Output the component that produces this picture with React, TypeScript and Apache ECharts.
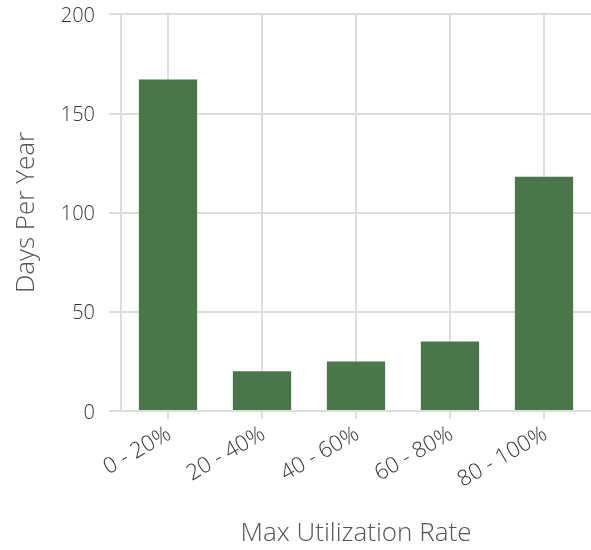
import React, { useEffect, useRef } from "react";
import * as echarts from "echarts";

const categories = ["0 - 20%", "20 - 40%", "40 - 60%", "60 - 80%", "80 - 100%"];
const daysPerYear = [167, 20, 25, 35, 118];
const yTicks = { min: 0, max: 200, interval: 50 };

export default function App() {
  const ref = useRef<HTMLDivElement>(null);
  useEffect(() => {
    const chart = echarts.init(ref.current!, null, { renderer: "svg" });
    const font = "Open Sans";
    // half-category grid positions: edges and centres
    const halfSteps = Array.from({ length: categories.length * 2 + 1 }, (_, i) => String(i));
    chart.setOption({
      animation: false,
      textStyle: { fontFamily: font, fontWeight: 300 },
      grid: { left: 121, right: 0, top: 14, bottom: 139, containLabel: false },
      xAxis: [
        {
          type: "category",
          data: categories,
          axisLine: { show: true, lineStyle: { color: "#dddddd", width: 2 } },
          axisTick: { show: true, alignWithLabel: true, length: 8, lineStyle: { color: "#dddddd", width: 2 } },
          axisLabel: { rotate: 30, fontSize: 22, color: "#333", fontFamily: font, fontWeight: 300, margin: 19 },
          splitLine: { show: false },
          name: "Max Utilization Rate",
          nameLocation: "middle",
          nameGap: 107,
          nameTextStyle: { fontSize: 26, color: "#555", fontFamily: font, fontWeight: 300 },
          z: 3,
        },
        {
          type: "category",
          data: halfSteps,
          boundaryGap: false,
          position: "bottom",
          axisLine: { show: false },
          axisTick: { show: false },
          axisLabel: { show: false },
          splitLine: {
            show: true,
            interval: (i: number) => i === 0 || i % 2 === 1,
            lineStyle: { color: "#dddddd", width: 2 },
          },
        },
      ],
      yAxis: {
        type: "value",
        min: yTicks.min,
        max: yTicks.max,
        interval: yTicks.interval,
        axisLine: { show: false },
        axisTick: { show: true, length: 12, lineStyle: { color: "#dddddd", width: 2 } },
        axisLabel: { fontSize: 20, color: "#333", fontFamily: font, fontWeight: 300, margin: 26 },
        splitLine: { show: true, lineStyle: { color: "#dddddd", width: 2 } },
        name: "Days Per Year",
        nameLocation: "middle",
        nameGap: 84,
        nameTextStyle: { fontSize: 26, color: "#555", fontFamily: font, fontWeight: 300 },
      },
      series: [
        {
          type: "bar",
          xAxisIndex: 0,
          data: daysPerYear,
          barWidth: "62%",
          itemStyle: { color: "#4a7749" },
        },
      ],
    });
    return () => chart.dispose();
  }, []);
  return <div ref={ref} style={{ position: "fixed", left: 0, top: 0, width: 591, height: 550 }} />;
}
